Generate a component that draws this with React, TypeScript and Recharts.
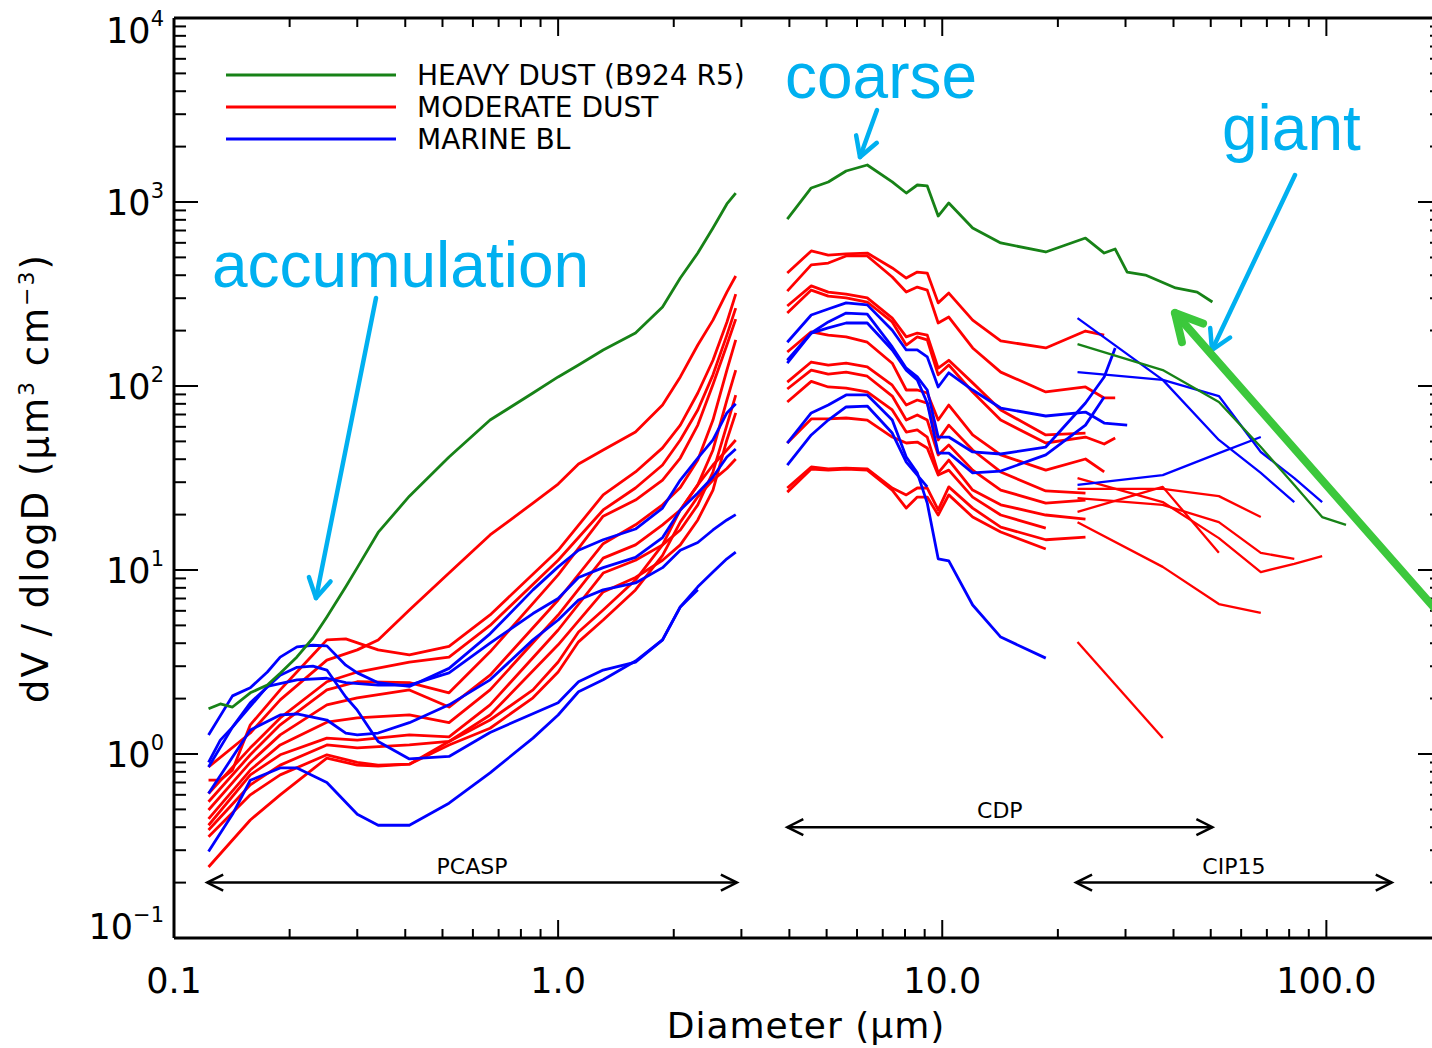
import React from 'react';
import { LineChart, Line, XAxis, YAxis, ReferenceLine } from 'recharts';

// ---------------- data ----------------
const _ = null;

// bin diameters (µm) for the three probes
const PCASP_D = [0.123, 0.132, 0.142, 0.158, 0.175, 0.189, 0.209, 0.23, 0.25, 0.28, 0.30, 0.34, 0.41, 0.52, 0.665, 0.86, 1.0, 1.13, 1.31, 1.59, 1.87, 2.08, 2.31, 2.53, 2.75, 2.9];
const CDP_D = [3.95, 4.56, 5.05, 5.62, 6.38, 7.41, 8.06, 8.61, 9.14, 9.76, 10.4, 12.0, 14.2, 18.6, 23.6, 26.4, 28.2, 30.3, 33.8, 40.5, 46.1, 50.5];
const CIP_D = [22.5, 37.5, 52.5, 67.5, 82.5, 97.5, 112.5];

// heavy dust (B924 R5)
const HEAVY_PCASP = [1.76, 1.87, 1.80, 2.15, 2.37, 2.75, 3.37, 4.27, 5.56, 8.1, 10.3, 16.0, 25.2, 41.1, 65.3, 91.6, 112, 130, 157, 194, 269, 386, 528, 723, 976, 1118];
const HEAVY_CDP = [808, 1192, 1285, 1474, 1589, 1285, 1119, 1237, 1222, 839, 988, 722, 599, 535, 637, 528, 555, 416, 401, 341, 324, 286];
const HEAVY_CIP = [169, 122, 81.8, 46.6, 29.0, 19.4, 17.6];

// moderate dust
const MOD_PCASP_1 = [0.85, _, _, 1.30, _, 1.97, _, _, 3.24, _, 3.68, 4.17, 6.06, 9.63, 15.5, 23.1, 29.3, 37.7, 44.9, 56.3, 78.8, 112, 167, 228, 324, 396];
const MOD_PCASP_2 = [0.722, 0.722, 0.818, 1.44, _, 2.23, _, 3.46, 4.17, 4.22, _, 3.68, 3.46, 3.84, 5.7, _, 12.8, _, 25.6, 34.1, 46.1, 61.3, 91.6, 138, 222, 316];
const MOD_PCASP_3 = [0.61, _, _, 1.08, _, 1.57, _, _, 2.47, _, 2.79, _, 3.16, 3.36, 5.0, _, 11.3, _, 21.2, 27.9, 37.2, 50.9, 74.1, 115, 189, 265];
const MOD_PCASP_4 = [0.55, _, _, 0.99, _, 1.44, _, _, 2.23, _, 2.47, _, 2.44, 2.15, 3.59, _, 9.4, _, 19.6, 24.0, 30.8, 40.6, 61.3, 102, 167, 231];
const MOD_PCASP_5 = [0.496, _, _, 0.90, _, 1.27, _, _, 1.85, _, 2.02, _, 2.23, 1.80, 2.68, _, 6.87, _, 13.9, 17.6, 22.6, 28.1, 39.6, 65.3, 122, 178];
const MOD_PCASP_6 = [0.444, _, _, 0.818, _, 1.12, _, _, 1.49, _, 1.57, _, 1.63, 1.48, 2.23, _, 5.69, _, 11.6, 13.7, 17.6, 21.2, 29.0, 44.9, 83.9, 122];
const MOD_PCASP_7 = [0.41, _, _, 0.77, _, 0.99, _, _, 1.22, _, 1.19, _, 1.27, 1.24, 1.85, _, 4.72, _, 9.63, 11.3, 13.7, 16.5, 22.6, 34.1, 61.3, 89.3];
const MOD_PCASP_8 = [0.386, _, _, 0.68, _, 0.87, _, _, 1.12, _, 1.08, _, 1.12, 1.17, 1.63, _, 3.92, _, 7.6, 9.1, 11.3, 13.7, 18.7, 27.2, 50.9, 71.4];
const MOD_PCASP_9 = [0.355, _, _, 0.60, _, 0.77, _, _, 0.99, _, 0.90, 0.87, 0.88, 1.17, 1.53, 2.23, 3.16, 4.6, 6.06, 8.82, 13.7, 21.2, 29.0, 37.2, 44.9, 50.9];
const MOD_PCASP_10 = [0.243, _, _, 0.438, _, 0.60, _, _, 0.95, _, 0.87, 0.86, 0.88, 1.12, 1.38, 2.02, 2.79, 4.07, 5.35, 7.79, 12.0, 18.2, 25.0, 30.8, 35.6, 40.1];

const MOD_CDP_1 = [411, 542, 515, 522, 528, 438, 386, 416, 411, 283, 320, 228, 176, 161, 199, 189];
const MOD_CDP_2 = [328, 455, 466, 509, 509, 391, 324, 345, 332, 220, 237, 161, 119, 92.8, 98.8, 86.1, 86.1];
const MOD_CDP_3 = [272, 350, 324, 316, 301, 234, 185, 194, 189, 125, 138, 104, 74.1, 54.2, 55.5];
const MOD_CDP_4 = [249, 332, 308, 301, 286, 223, 167, 185, 178, 115, 130, 92.8, 65.3, 49.0, 52.8, 48.4, 52.2];
const MOD_CDP_5 = [153, 197, 189, 185, 173, 133, 95.1, 95.1, 91.6, 65.3, 78.8, 54.2, 42.2, 34.9, 40.1, 34.1];
const MOD_CDP_6 = [105, 135, 130, 133, 127, 101, 78.8, 83.9, 80.8, 50.9, 61.3, 44.9, 34.1, 26.9, 26.2];
const MOD_CDP_7 = [96.3, 122, 116, 119, 113, 88.2, 65.3, 69.6, 65.3, 42.2, 47.8, 34.9, 27.2, 23.1, 24.0];
const MOD_CDP_8 = [81.8, 106, 98.8, 97.5, 92.8, 74.1, 56.2, 57.7, 52.8, 33.7, 39.6, 27.2, 22.6, 19.9, 18.9];
const MOD_CDP_9 = [49.0, 66.2, 66.2, 67.0, 65.3, 52.8, 49.0, 49.6, 46.0, 32.8, 34.9, 24.9, 19.9, 16.9];
const MOD_CDP_10 = [27.9, 36.3, 35.4, 35.8, 35.4, 27.9, 25.6, 27.9, 27.9, 21.2, 28.3, 21.7, 17.1, 14.6, 15.1];
const MOD_CDP_11 = [26.5, 35.4, 34.9, 35.4, 34.9, 27.2, 21.7, 24.9, 24.9, 19.9, 25.6, 19.4, 16.1, 13.0];

const MOD_CIP_1 = [31.6, 23.4, 14.9, 9.75, 10.8, 11.9];
const MOD_CIP_2 = [27.6, 27.6, 25.2, 19.4];
const MOD_CIP_3 = [20.7, 28.3, 12.4];
const MOD_CIP_4 = [24.6, 22.6, 18.2, 12.4, 11.5];
const MOD_CIP_5 = [18.2, 10.4, 6.53, 5.84];
const MOD_CIP_6 = [4.06, 1.22];

// marine boundary layer
const MBL_PCASP_1 = [1.27, _, 2.07, 2.29, 2.79, 3.36, 3.82, 3.9, 3.87, 3.04, 2.76, 2.44, 2.33, 2.92, 4.5, 7.8, 10.4, 12.8, 14.6, 16.7, 21.7, 30.8, 40.6, 50.9, 71.4, 80];
const MBL_PCASP_2 = [0.90, 1.19, 1.40, _, 2.33, _, 2.53, _, 2.58, 2.44, _, 2.37, 2.37, 2.76, 4.0, 5.8, 7.0, 9.1, 10.3, 11.7, 15.0, 21.2, 26.2, 32.0, 41.1, 45.5];
const MBL_PCASP_3 = [0.85, _, 1.40, 1.90, _, 2.68, 2.96, 3.0, 2.86, 2.04, 1.73, 1.17, 0.94, 0.97, 1.31, _, 1.9, 2.47, 2.86, 3.16, 4.17, 6.3, 8.1, 9.75, 11.5, 12.5];
const MBL_PCASP_4 = [0.61, _, _, 1.35, _, 1.63, 1.65, _, 1.53, 1.30, 1.27, 1.30, 1.48, 1.85, 2.53, 4.17, 5.35, 6.87, 7.8, 8.5, 10.3, 12.8, 14.1, 16.5, 18.7, 20];
const MBL_PCASP_5 = [0.295, _, 0.47, 0.72, _, 0.84, 0.84, _, 0.70, _, 0.47, 0.41, 0.41, 0.54, 0.79, 1.22, 1.63, 2.18, 2.53, 3.2, 4.17, 6.3, 7.8];

const MBL_CDP_1 = [173, 243, 262, 283, 276, 201, 157, 157, 144, 98.8, 118, 95.1, 75.9, 68.7, 72.2, 62.9, _, 61.3];
const MBL_CDP_2 = [138, 194, 223, 249, 246, 163, 125, 112, 95.1, 52.8, 52.8, 43.8, 42.7, 46.6, 80.8, 112, 161];
const MBL_CDP_3 = [133, 194, 207, 220, 220, 157, 122, 108, 80.8, 43.2, 43.2, 33.7, 34.5, 42.2, 61.3, 87.1];
const MBL_CDP_4 = [49.0, 71.4, 78.8, 89.4, 89.4, 65.3, 41.1, 33.7, 23.1, 11.5, 11.2, 6.45, 4.32, 3.32];
const MBL_CDP_5 = [37.2, 54.2, 65.3, 76.9, 77.8, 55.5, 38.6, 32.8, 28.3];

const MBL_CIP_1 = [234, 108, 50.9, 33.7, 23.4];
const MBL_CIP_2 = [119, 108, 88.2, 43.8, 31.6, 23.4];
const MBL_CIP_3 = [29.0, 32.8, 43.2, 52.8];

// instrument size ranges
const RANGE_LABELS = ['PCASP', 'CDP', 'CIP15'];
const RANGE_X = [[0.122, 2.92], [3.95, 50.5], [22.3, 148]];
const RANGE_Y = [0.2, 0.4, 0.2];

// axes
const X_TICKS = [0.1, 0.2, 0.3, 0.4, 0.5, 0.6, 0.7, 0.8, 0.9, 1, 2, 3, 4, 5, 6, 7, 8, 9, 10, 20, 30, 40, 50, 60, 70, 80, 90, 100];
const X_MAJOR = [0.1, 1, 10, 100];
const X_MAJOR_LABELS = ['0.1', '1.0', '10.0', '100.0'];
const Y_TICKS = [0.1, 0.2, 0.3, 0.4, 0.5, 0.6, 0.7, 0.8, 0.9, 1, 2, 3, 4, 5, 6, 7, 8, 9, 10, 20, 30, 40, 50, 60, 70, 80, 90,
  100, 200, 300, 400, 500, 600, 700, 800, 900, 1000, 2000, 3000, 4000, 5000, 6000, 7000, 8000, 9000, 10000];
const Y_MAJOR = [0.1, 1, 10, 100, 1000, 10000];
const Y_EXP = ['\u22121', '0', '1', '2', '3', '4'];

const LEGEND_LABELS = ['HEAVY DUST (B924 R5)', 'MODERATE DUST', 'MARINE BL'];

// ---------------- styling / layout ----------------
const RED = '#FF0000';
const BLUE = '#0000FF';
const GREEN = '#178217';
const CYAN = '#00B0F0';
const LIME = '#3CC83C';
const FONT = '"DejaVu Sans", Verdana, sans-serif';
const ANNOT_FONT = '"Liberation Sans", Arial, sans-serif';

const CHART_W = 1450;
const CHART_H = 1048;
const MARGIN = { top: 18, right: 8, bottom: 50, left: 0 };
const Y_AXIS_W = 174;
const X_AXIS_H = 60;
const PLOT_W = CHART_W - MARGIN.left - MARGIN.right - Y_AXIS_W;
const PLOT_H = CHART_H - MARGIN.top - MARGIN.bottom - X_AXIS_H;
const Y_LABEL_DY = [1, 13, 13, 13, 13, 25];

type Pt = { x: number; y: number };
const toPts = (xs: number[], ys: (number | null)[]): Pt[] =>
  xs.map((x, i) => ({ x, y: ys[i] as number })).filter((p) => p.y !== null && p.y !== undefined);

type Series = { key: string; data: Pt[]; color: string; width: number };
const mk = (prefix: string, xs: number[], list: (number | null)[][], color: string, width: number): Series[] =>
  list.map((ys, i) => ({ key: `${prefix}${i}`, data: toPts(xs, ys), color, width }));

const SERIES: Series[] = [
  ...mk('mp', PCASP_D, [MOD_PCASP_1, MOD_PCASP_2, MOD_PCASP_3, MOD_PCASP_4, MOD_PCASP_5, MOD_PCASP_6, MOD_PCASP_7, MOD_PCASP_8, MOD_PCASP_9, MOD_PCASP_10], RED, 2.8),
  ...mk('mc', CDP_D, [MOD_CDP_1, MOD_CDP_2, MOD_CDP_3, MOD_CDP_4, MOD_CDP_5, MOD_CDP_6, MOD_CDP_7, MOD_CDP_8, MOD_CDP_9, MOD_CDP_10, MOD_CDP_11], RED, 2.8),
  ...mk('mi', CIP_D, [MOD_CIP_1, MOD_CIP_2, MOD_CIP_3, MOD_CIP_4, MOD_CIP_5, MOD_CIP_6], RED, 2.3),
  ...mk('bp', PCASP_D, [MBL_PCASP_1, MBL_PCASP_2, MBL_PCASP_3, MBL_PCASP_4, MBL_PCASP_5], BLUE, 2.8),
  ...mk('bc', CDP_D, [MBL_CDP_1, MBL_CDP_2, MBL_CDP_3, MBL_CDP_4, MBL_CDP_5], BLUE, 2.8),
  ...mk('bi', CIP_D, [MBL_CIP_1, MBL_CIP_2, MBL_CIP_3], BLUE, 2.3),
  ...mk('hp', PCASP_D, [HEAVY_PCASP], GREEN, 2.8),
  ...mk('hc', CDP_D, [HEAVY_CDP], GREEN, 2.8),
  ...mk('hi', CIP_D, [HEAVY_CIP], GREEN, 2.3),
];

// ---------------- custom axis ticks (IDL style, inward, on both sides) ----------------
const XTick = (props: any) => {
  const { x, y, payload } = props;
  const i = X_MAJOR.indexOf(payload.value);
  const len = i >= 0 ? 18 : 9;
  return (
    <g>
      <line x1={x} x2={x} y1={y} y2={y - len} stroke="#000" strokeWidth={2} />
      <line x1={x} x2={x} y1={y - PLOT_H} y2={y - PLOT_H + len} stroke="#000" strokeWidth={2} />
      {i >= 0 && (
        <text x={x} y={y + 55} textAnchor="middle" fontFamily={FONT} fontSize={35} fill="#000">
          {X_MAJOR_LABELS[i]}
        </text>
      )}
    </g>
  );
};

const YTick = (props: any) => {
  const { x, y, payload } = props;
  const i = Y_MAJOR.indexOf(payload.value);
  const len = i >= 0 ? 24 : 12;
  return (
    <g>
      <line x1={x} x2={x + len} y1={y} y2={y} stroke="#000" strokeWidth={2} />
      <line x1={x + PLOT_W} x2={x + PLOT_W - len} y1={y} y2={y} stroke="#000" strokeWidth={2} />
      {i >= 0 && (
        <text x={x - 10} y={y + Y_LABEL_DY[i]} textAnchor="end" fontFamily={FONT} fontSize={35} fill="#000">
          10
          <tspan dy={-17} fontSize={21}>
            {Y_EXP[i]}
          </tspan>
        </text>
      )}
    </g>
  );
};

// double-headed instrument range arrow
const rangeShape = (label: string) => (p: any) => {
  const { x1, y1, x2, y2 } = p;
  const s = { stroke: '#000', strokeWidth: 2.5, fill: 'none' };
  return (
    <g>
      <line x1={x1} y1={y1} x2={x2} y2={y2} {...s} />
      <polyline points={`${x1 + 16},${y1 - 8} ${x1},${y1} ${x1 + 16},${y1 + 8}`} {...s} />
      <polyline points={`${x2 - 16},${y2 - 8} ${x2},${y2} ${x2 - 16},${y2 + 8}`} {...s} />
      <text x={(x1 + x2) / 2} y={y1 - 9} textAnchor="middle" fontFamily={FONT} fontSize={22} fill="#000">
        {label}
      </text>
    </g>
  );
};

// arrow head helper for annotation arrows
const head = (tail: number[], tip: number[], len: number, deg: number) => {
  const dx = tail[0] - tip[0];
  const dy = tail[1] - tip[1];
  const n = Math.hypot(dx, dy);
  const ux = dx / n;
  const uy = dy / n;
  const a = (deg * Math.PI) / 180;
  const w1 = [tip[0] + len * (ux * Math.cos(a) - uy * Math.sin(a)), tip[1] + len * (ux * Math.sin(a) + uy * Math.cos(a))];
  const w2 = [tip[0] + len * (ux * Math.cos(-a) - uy * Math.sin(-a)), tip[1] + len * (ux * Math.sin(-a) + uy * Math.cos(-a))];
  return `${w1[0]},${w1[1]} ${tip[0]},${tip[1]} ${w2[0]},${w2[1]}`;
};

const ANNOT_TEXTS = [
  { text: 'accumulation', x: 212, y: 287 },
  { text: 'coarse', x: 785, y: 98 },
  { text: 'giant', x: 1222, y: 150 },
];
const CYAN_ARROWS = [
  { tail: [376, 298], tip: [316, 598] },
  { tail: [877, 110], tip: [860, 157] },
  { tail: [1295, 175], tip: [1212, 350] },
];
const LIME_ARROW = { tail: [1445, 620], tip: [1175, 313] };

const LEGEND_COLORS = [GREEN, RED, BLUE];

export default function App() {
  return (
    <div style={{ position: 'absolute', left: 0, top: 0, width: 1432, height: 1048, overflow: 'hidden', background: '#fff' }}>
      <LineChart width={CHART_W} height={CHART_H} margin={MARGIN}>
        <XAxis
          dataKey="x"
          type="number"
          scale="log"
          domain={[0.1, 200]}
          allowDataOverflow
          ticks={X_TICKS}
          interval={0}
          height={X_AXIS_H}
          tickSize={0}
          tickMargin={0}
          tickLine={false}
          axisLine={{ stroke: '#000', strokeWidth: 3 }}
          tick={XTick}
        />
        <YAxis
          dataKey="y"
          type="number"
          scale="log"
          domain={[0.1, 10000]}
          allowDataOverflow
          ticks={Y_TICKS}
          interval={0}
          width={Y_AXIS_W}
          tickSize={0}
          tickMargin={0}
          tickLine={false}
          axisLine={{ stroke: '#000', strokeWidth: 3 }}
          tick={YTick}
        />
        <ReferenceLine y={10000} stroke="#000" strokeWidth={3} />
        <ReferenceLine x={200} stroke="#000" strokeWidth={3} />
        {SERIES.map((s) => (
          <Line
            key={s.key}
            data={s.data}
            dataKey="y"
            type="linear"
            stroke={s.color}
            strokeWidth={s.width}
            strokeLinejoin="round"
            dot={false}
            activeDot={false}
            isAnimationActive={false}
          />
        ))}
        {RANGE_LABELS.map((lab, i) => (
          <ReferenceLine
            key={lab}
            segment={[
              { x: RANGE_X[i][0], y: RANGE_Y[i] },
              { x: RANGE_X[i][1], y: RANGE_Y[i] },
            ]}
            shape={rangeShape(lab)}
          />
        ))}
      </LineChart>

      <svg width={1432} height={1048} style={{ position: 'absolute', left: 0, top: 0, pointerEvents: 'none' }}>
        {/* legend */}
        {LEGEND_LABELS.map((lab, i) => (
          <g key={lab}>
            <line x1={226} x2={396} y1={75 + 32 * i} y2={75 + 32 * i} stroke={LEGEND_COLORS[i]} strokeWidth={3} />
            <text x={417} y={85 + 32 * i} fontFamily={FONT} fontSize={28} fill="#000">
              {lab}
            </text>
          </g>
        ))}

        {/* axis titles */}
        <text x={806} y={1038} textAnchor="middle" fontFamily={FONT} fontSize={36} letterSpacing={1} fill="#000">
          Diameter ({'\u03bc'}m)
        </text>
        <text
          x={48}
          y={478}
          transform="rotate(-90 48 478)"
          textAnchor="middle"
          fontFamily={FONT}
          fontSize={37}
          letterSpacing={2}
          fill="#000"
        >
          dV / dlogD ({'\u03bc'}m
          <tspan dy={-14} fontSize={22}>3</tspan>
          <tspan dy={14}> cm</tspan>
          <tspan dy={-14} fontSize={22}>{'\u22123'}</tspan>
          <tspan dy={14}>)</tspan>
        </text>

        {/* annotations */}
        {ANNOT_TEXTS.map((t) => (
          <text key={t.text} x={t.x} y={t.y} fontFamily={ANNOT_FONT} fontSize={64} fill={CYAN}>
            {t.text}
          </text>
        ))}
        {CYAN_ARROWS.map((a, i) => (
          <g key={i} stroke={CYAN} strokeWidth={4.5} strokeLinecap="round" strokeLinejoin="round" fill="none">
            <line x1={a.tail[0]} y1={a.tail[1]} x2={a.tip[0]} y2={a.tip[1]} />
            <polyline points={head(a.tail, a.tip, 22, 30)} />
          </g>
        ))}
        <g stroke={LIME} strokeWidth={8} strokeLinecap="round" strokeLinejoin="round" fill="none">
          <line x1={LIME_ARROW.tail[0]} y1={LIME_ARROW.tail[1]} x2={LIME_ARROW.tip[0]} y2={LIME_ARROW.tip[1]} />
          <polyline points={head(LIME_ARROW.tail, LIME_ARROW.tip, 30, 28)} />
        </g>
      </svg>
    </div>
  );
}
